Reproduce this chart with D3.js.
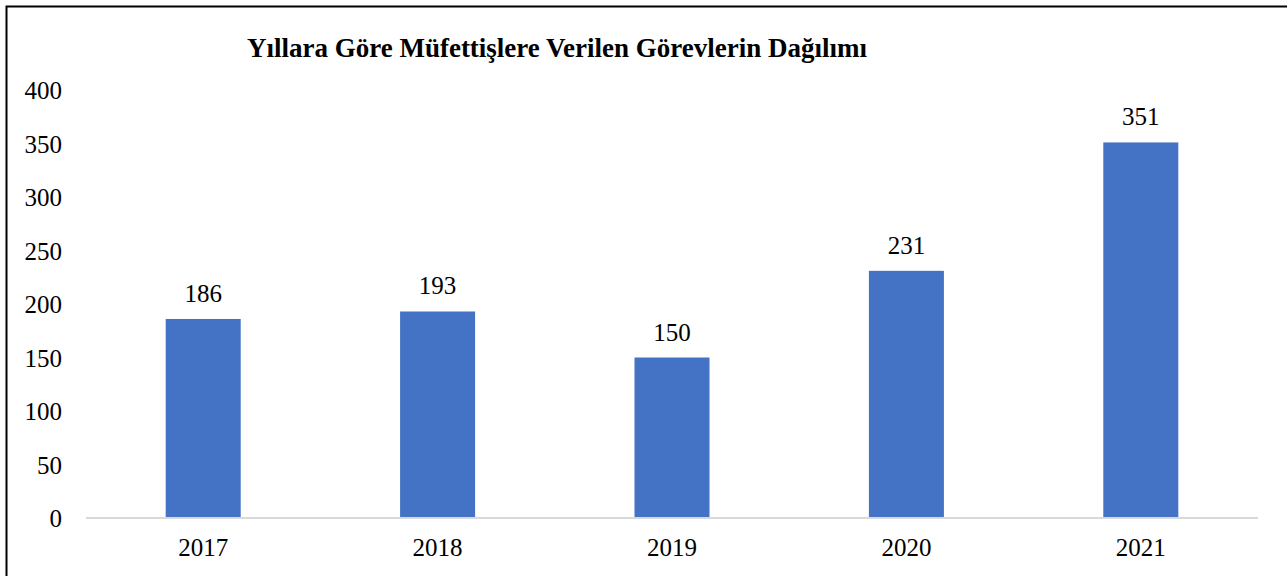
<!DOCTYPE html>
<html>
<head>
<meta charset="utf-8">
<script src="https://cdn.jsdelivr.net/npm/d3@7"></script>
<style>
  html, body { margin: 0; padding: 0; background: #fff; }
  svg { display: block; }
  svg text { font-family: "Liberation Serif", "Times New Roman", serif !important; }
</style>
</head>
<body>
<svg id="chart" width="1287" height="576"></svg>
<script>
const title = "Yıllara Göre Müfettişlere Verilen Görevlerin Dağılımı";
const categories = ["2017", "2018", "2019", "2020", "2021"];
const values = [186, 193, 150, 231, 351];
const yTicks = [0, 50, 100, 150, 200, 250, 300, 350, 400];

const W = 1287, H = 576;
const margin = { left: 86, right: 29, top: 90, bottom: 58 };
const serif = '"Liberation Serif", "Times New Roman", serif';
const svg = d3.select("#chart");

// outer border (right/bottom edges clipped like the reference)
svg.append("rect")
  .attr("x", 6.5).attr("y", 6.5)
  .attr("width", W + 20).attr("height", H + 20)
  .attr("fill", "none").attr("stroke", "#000").attr("stroke-width", 2);

const x = d3.scaleBand()
  .domain(categories)
  .range([margin.left, W - margin.right])
  .paddingInner(0.68)
  .paddingOuter(0.34);

const y = d3.scaleLinear()
  .domain([0, 400])
  .range([H - margin.bottom, margin.top]);

// title
svg.append("text")
  .attr("x", 557).attr("y", 57)
  .attr("text-anchor", "middle")
  .style("font-family", serif)
  .style("font-weight", "bold")
  .style("font-size", "27px")
  .attr("fill", "#000")
  .text(title);

// y axis (labels only)
const yAxis = d3.axisLeft(y).tickValues(yTicks).tickSize(0).tickPadding(0);
const gy = svg.append("g").attr("transform", `translate(62,0)`).call(yAxis)
  .attr("font-family", null).attr("font-size", null);
gy.select(".domain").remove();
gy.selectAll("text")
  .style("font-family", serif)
  .style("font-size", "25px").attr("fill", "#000").attr("dy", "0.34em");

// bars
svg.append("g").selectAll("rect")
  .data(values)
  .join("rect")
  .attr("x", (d, i) => x(categories[i]))
  .attr("y", d => y(d))
  .attr("width", x.bandwidth())
  .attr("height", d => y(0) - y(d))
  .attr("fill", "#4472C4");

// baseline / x axis
const xAxis = d3.axisBottom(x).tickSize(0).tickPadding(0);
const gx = svg.append("g").attr("transform", `translate(0,${y(0)})`).call(xAxis)
  .attr("font-family", null).attr("font-size", null);
gx.select(".domain").attr("stroke", "#d9d9d9").attr("stroke-width", 2)
  .attr("d", `M${margin.left},0H${W - margin.right}`);
gx.selectAll("text")
  .style("font-family", serif)
  .style("font-size", "25px").attr("fill", "#000")
  .attr("dy", 0).attr("y", 38);

// value labels
svg.append("g").selectAll("text")
  .data(values)
  .join("text")
  .attr("x", (d, i) => x(categories[i]) + x.bandwidth() / 2)
  .attr("y", d => y(d) - 17)
  .attr("text-anchor", "middle")
  .style("font-family", serif)
  .style("font-size", "25px")
  .attr("fill", "#000")
  .text(d => d);
</script>
</body>
</html>
